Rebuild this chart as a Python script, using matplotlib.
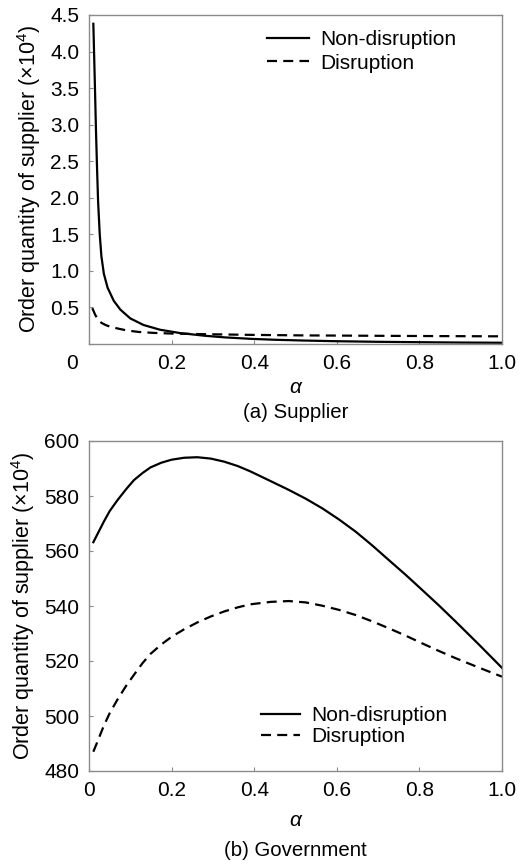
import numpy as np
import matplotlib
matplotlib.use("Agg")
import matplotlib.pyplot as plt
import matplotlib.transforms as mtrans

plt.rcParams['font.family'] = ['Liberation Sans', 'DejaVu Sans']
plt.rcParams['mathtext.fontset'] = 'custom'
plt.rcParams['mathtext.rm'] = 'Liberation Sans'
plt.rcParams['mathtext.it'] = 'Liberation Sans:italic'

# (a) Supplier
alpha_a_nd = [0.0105, 0.014, 0.017, 0.0195, 0.022, 0.026, 0.030, 0.036, 0.045, 0.06,
              0.076, 0.1, 0.132, 0.172, 0.22, 0.28, 0.33, 0.394, 0.45, 0.515,
              0.6, 0.7, 0.81, 0.9, 1.0]
supp_nd = [4.38, 3.6, 2.9, 2.4, 1.95, 1.5, 1.2, 0.96, 0.77, 0.59,
           0.47, 0.35, 0.26, 0.195, 0.15, 0.113, 0.09, 0.07, 0.058, 0.048,
           0.038, 0.03, 0.024, 0.02, 0.017]

alpha_a_d = [0.008, 0.015, 0.022, 0.03, 0.04, 0.052, 0.071, 0.092, 0.12, 0.156,
             0.2, 0.273, 0.39, 0.51, 0.7, 0.85, 1.0]
supp_d = [0.49, 0.40, 0.33, 0.29, 0.26, 0.235, 0.21, 0.185, 0.165, 0.152,
          0.143, 0.135, 0.125, 0.118, 0.112, 0.108, 0.105]

# (b) Government
alpha_b = [0.0105, 0.02, 0.036, 0.05, 0.069, 0.09, 0.109, 0.13, 0.149, 0.175,
           0.2, 0.23, 0.262, 0.295, 0.327, 0.36, 0.39, 0.44, 0.484, 0.525,
           0.565, 0.605, 0.646, 0.686, 0.726, 0.767, 0.807, 0.848, 0.888, 0.944, 1.0]
gov_nd = [563.2, 566.0, 570.7, 574.5, 578.5, 582.5, 585.8, 588.4, 590.4, 592.1,
          593.2, 593.9, 594.1, 593.6, 592.5, 590.9, 589.0, 585.4, 582.2, 579.0,
          575.5, 571.5, 567.0, 562.0, 556.7, 551.3, 545.8, 540.1, 534.3, 526.0, 517.5]
gov_d = [487.0, 490.5, 496.5, 501.0, 506.0, 511.0, 515.0, 519.3, 522.6, 526.0,
         528.8, 531.5, 534.0, 536.2, 538.0, 539.5, 540.6, 541.5, 541.8, 541.3,
         540.1, 538.6, 536.7, 534.4, 531.9, 529.2, 526.4, 523.6, 521.0, 517.6, 514.3]

ylab = 'Order quantity of supplier (×10$^{4}$)'
gray = '#8a8a8a'

fig = plt.figure(figsize=(5.28, 8.64), dpi=100)
ax1 = fig.add_axes([89/528, 1-344/864, 413/528, 329/864])
ax2 = fig.add_axes([89/528, 1-771/864, 413/528, 330/864])


def style(ax, xpad):
    for s in ax.spines.values():
        s.set_color(gray)
        s.set_linewidth(1.0)
    ax.tick_params(direction='in', length=3, width=0.8, color=gray,
                   labelsize=15, pad=7)
    ax.set_xlim(0, 1.0)
    ax.set_xticks([0, 0.2, 0.4, 0.6, 0.8, 1.0])
    ax.set_xticklabels(['0', '0.2', '0.4', '0.6', '0.8', '1.0'])
    ax.set_xlabel('α', fontsize=15, style='italic', labelpad=xpad)
    ax.set_ylabel(ylab, fontsize=15.5, labelpad=5)


# top panel
ax1.plot(alpha_a_nd, supp_nd, color='black', lw=1.6, label='Non-disruption')
ax1.plot(alpha_a_d, supp_d, color='black', lw=1.6, dashes=(4.5, 2.8), label='Disruption')
style(ax1, 4)
ax1.set_ylim(0, 4.5)
ax1.set_yticks([0.5, 1.0, 1.5, 2.0, 2.5, 3.0, 3.5, 4.0, 4.5])
ax1.set_yticklabels(['0.5', '1.0', '1.5', '2.0', '2.5', '3.0', '3.5', '4.0', '4.5'])
# the "0" under the first panel sits left of the axis
lab0 = ax1.get_xticklabels()[0]
lab0.set_transform(lab0.get_transform() + mtrans.ScaledTranslation(-17/100, 0, fig.dpi_scale_trans))
ax1.legend(loc='upper left', bbox_to_anchor=((267-89)/413, (344-30)/329),
           frameon=False, fontsize=15, handlelength=2.0, handletextpad=0.55,
           labelspacing=0.22, borderpad=0, borderaxespad=0)
ax1.text(0.5, -(413-344)/329, '(a) Supplier', transform=ax1.transAxes, ha='center',
         va='center', fontsize=14.7)

# bottom panel
ax2.plot(alpha_b, gov_nd, color='black', lw=1.6, label='Non-disruption')
ax2.plot(alpha_b, gov_d, color='black', lw=1.6, dashes=(4.5, 2.8), label='Disruption')
style(ax2, 8)
ax2.set_ylim(480, 600)
ax2.set_yticks([480, 500, 520, 540, 560, 580, 600])
ax2.legend(loc='upper left', bbox_to_anchor=((261-89)/413, (771-706)/330),
           frameon=False, fontsize=15, handlelength=1.85, handletextpad=0.55,
           labelspacing=0.12, borderpad=0, borderaxespad=0)
ax2.text(0.5, -(850-771)/330, '(b) Government', transform=ax2.transAxes, ha='center',
         va='center', fontsize=14.7)

fig.savefig('out.png', dpi=100)
